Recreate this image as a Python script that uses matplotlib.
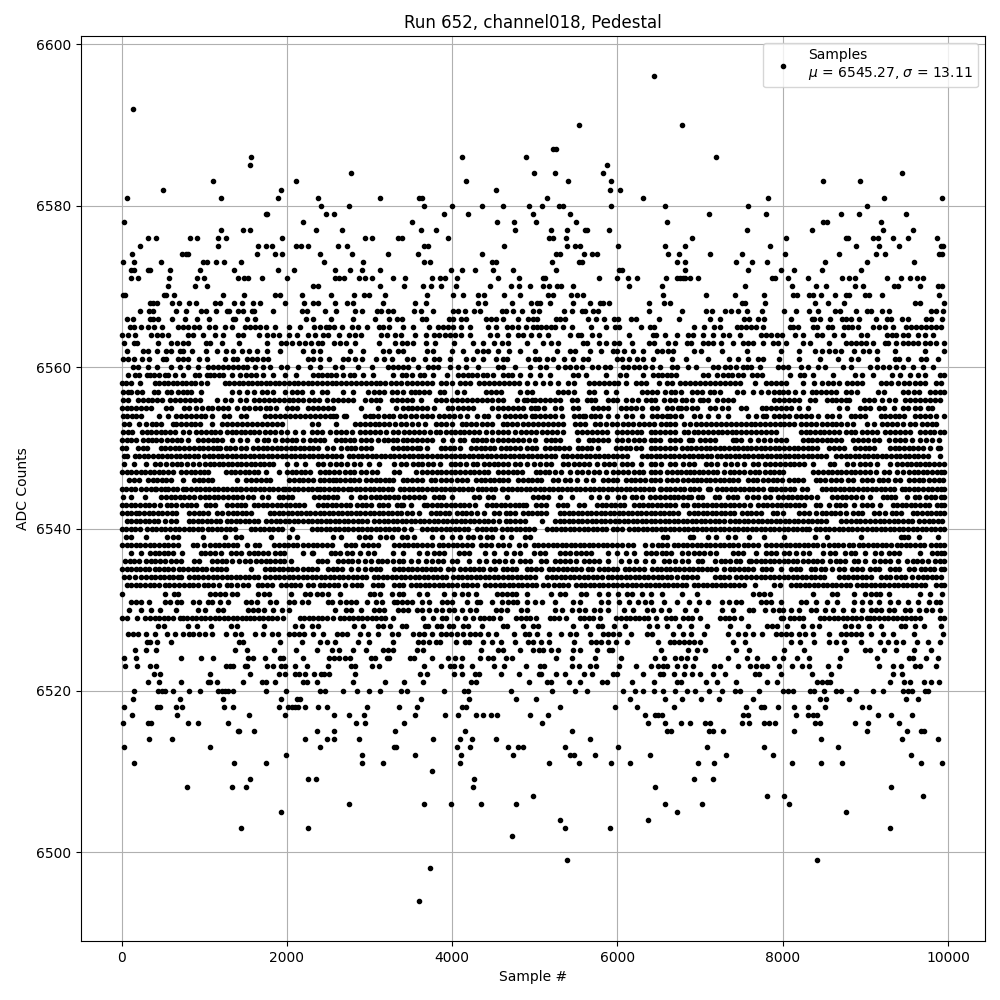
import matplotlib
matplotlib.use('Agg')
import matplotlib.pyplot as plt

# sample numbers, one list per ADC level
# tails are dot by dot, the dense middle rows are thinned out to about one dot per 55 samples
tail_low = [
    (6494, [3599]), (6498, [3732]), (6499, [5393, 8416]), (6502, [4723]),
    (6503, [1447, 2257, 5369, 5913, 9298]), (6504, [5309, 6373]), (6505, [1930, 6723, 8766]),
    (6506, [2752, 3659, 3986, 4348, 4772, 6578, 7026, 8077]), (6507, [4977, 7811, 8017, 9697]),
    (6508, [794, 1338, 1507, 4252, 6457, 9311]), (6509, [1556, 2257, 2353, 4264, 6929, 7159]),
    (6510, [3756]),
    (6511, [153, 1362, 1749, 2910, 3163, 4095, 5176, 5538, 5925, 6155, 6977, 7170, 8113, 8464, 8718, 9673, 9927]),
    (6512, [1991, 2910, 3550, 4107, 4735, 5430, 5478, 5732, 6397, 7316, 7884, 9552]),
    (6513, [32, 1072, 2402, 3297, 3321, 4058, 4215, 4675, 4796, 4856, 5369, 6010, 7086, 7775, 8670]),
    (6514, [334, 612, 2220, 2487, 2567, 2873, 3768, 4095, 4239, 4530, 5671, 8464, 9444, 9879]),
    (6515, [1411, 1423, 1604, 2366, 2571, 3309, 4155, 5454, 6602, 6651, 7110, 7159, 7279, 8138, 9020, 9504, 9673, 9709]),
    (6516, [20, 322, 359, 806, 927, 1290, 2837, 2946, 3418, 5091, 6373, 6578, 6772, 6880, 7062, 7122, 7509, 7594, 7775, 7835, 7908, 8392, 8452, 8875, 9032, 9407]),
    (6517, [129, 673, 1543, 1979, 2571, 2752, 2934, 3550, 3913, 4070, 4288, 4372, 4469, 4542, 4941, 5164, 6336, 6457, 6494, 6542, 7521, 7582, 8162, 8307, 8364, 8416, 9153, 9311, 9564]),
    (6518, [32, 431, 467, 661, 733, 1241, 1350, 1906, 2015, 2060, 2100, 2140, 2220, 2378, 2487, 2970, 3357, 3574, 4119, 4171, 5309, 5974, 6240, 6687, 7558, 7739, 7775, 7944, 8138, 8307, 8512, 8960, 9044]),
    (6519, [141, 709, 1229, 1930, 2124, 2160, 3623, 4203, 4772, 5013, 6155, 6578, 6784, 7013, 7231, 7642, 8452, 8525, 8803, 9492, 9637]),
    (6520, [153, 443, 490, 528, 625, 818, 951, 1169, 1210, 1250, 1290, 1350, 1749, 1991, 2402, 2462, 2680, 2849, 2994, 3127, 3381, 3454, 3901, 4143, 4191, 4711, 5212, 5490, 5635, 6070, 6215, 6312, 6445, 6554, 6699, 6844, 6941, 7110, 7259, 7424, 7485, 7715, 8005, 8060, 8126, 8331, 8380, 8501, 8645, 8706, 8887, 9093, 9214, 9456, 9510, 9564, 9717, 9758]),
    (6521, [322, 455, 721, 1048, 1072, 1156, 1471, 1700, 1749, 1858, 2196, 2245, 2366, 2801, 3187, 3418, 3647, 4227, 4288, 4929, 5152, 5200, 5417, 5551, 5816, 5877, 6179, 6445, 6723, 6772, 7074, 7207, 7437, 7811, 7932, 8416, 8470, 8530, 8570, 9298, 9468, 9540, 9709, 9794, 9895]),
    (6522, [395, 467, 1072, 1556, 1906, 1979, 2100, 2148, 2220, 2329, 2414, 2450, 2511, 2825, 3611, 3696, 4022, 4119, 4276, 4324, 4590, 4808, 5050, 5079, 5260, 5369, 5599, 5696, 5950, 5998, 6312, 6518, 6554, 6687, 6808, 6905, 7001, 7159, 7304, 7666, 7715, 7980, 8355, 8585, 9335, 9444]),
    (6523, [44, 189, 347, 419, 1265, 1310, 1350, 1495, 1519, 1761, 1834, 1930, 1979, 2100, 2245, 2499, 2777, 2825, 3031, 3115, 3659, 3865, 3974, 4022, 4107, 4239, 4506, 4626, 4892, 5067, 5115, 5454, 5538, 5671, 5744, 6022, 6228, 6409, 6494, 6550, 6602, 6723, 6820, 6917, 7170, 7243, 7461, 7606, 7678, 7750, 7811, 7956, 8113, 8235, 8319, 8549, 8682, 9165, 9335, 9435, 9600, 9665, 9855]),
    (6524, [32, 177, 721, 963, 1108, 1531, 1592, 1737, 1918, 1955, 2196, 2511, 2571, 2630, 2700, 2760, 3018, 3066, 3212, 3236, 3490, 3538, 3756, 3949, 4034, 4119, 4336, 4433, 4494, 4651, 4723, 5260, 5454, 5732, 6046, 6457, 6566, 6699, 6770, 6844, 6941, 7340, 7570, 7690, 7896, 8005, 8174, 8319, 8694, 9141, 9528, 9577, 9734, 9879]),
    (6525, [165, 298, 419, 1374, 1519, 1846, 2112, 2366, 2547, 2632, 2801, 2958, 3163, 3225, 3285, 3574, 3647, 4348, 4554, 4614, 4820, 4977, 5050, 5103, 5200, 5285, 5466, 5546, 5756, 5901, 5937, 6530, 6856, 6965, 7062, 7437, 7594, 8017, 8259, 8766, 8992, 9053, 9226, 9375, 9589, 9794]),
    (6526, [310, 347, 431, 600, 1423, 1471, 1918, 2184, 2402, 2487, 2583, 2861, 2994, 3285, 3587, 3650, 3720, 3800, 3849, 4046, 4155, 4203, 4372, 4481, 4590, 4759, 4917, 4977, 5079, 5176, 5478, 5683, 5745, 5805, 5889, 5986, 6119, 6494, 6635, 6690, 6750, 6810, 6870, 6925, 6997, 7400, 7545, 8101, 8210, 8380, 8561, 8640, 8742, 8948, 9181, 9274, 9371, 9456, 9625, 9762, 9902]),
    (6527, [81, 140, 201, 298, 407, 552, 649, 745, 810, 870, 940, 1007, 1096, 1265, 1374, 1447, 1612, 1713, 1822, 1894, 2027, 2090, 2150, 2210, 2317, 2438, 2607, 2670, 2730, 2881, 2982, 3103, 3272, 3345, 3526, 3599, 3659, 3756, 3865, 3930, 3990, 4060, 4131, 4215, 4276, 4336, 4433, 4530, 4747, 4880, 4929, 5031, 5176, 5321, 5430, 5502, 5671, 5829, 5890, 5950, 6022, 6167, 6361, 6421, 6675, 6796, 6892, 7050, 7340, 7461, 7545, 7642, 7751, 7924, 7980, 8040, 8105, 8198, 8270, 8368, 8561, 8706, 8770, 8830, 8890, 8950, 9073, 9214, 9335, 9589, 9939]),
    (6528, [443, 516, 806, 915, 1084, 1326, 1398, 1725, 2100, 2184, 2305, 2378, 2813, 2922, 3103, 3163, 3248, 3393, 3442, 3671, 3708, 3816, 3865, 3962, 4010, 4131, 4191, 4360, 4614, 4663, 4856, 4977, 5043, 5466, 5623, 5768, 5816, 5962, 6095, 6385, 6481, 6602, 6743, 6892, 7086, 7364, 7582, 7811, 7864, 7932, 8053, 8247, 8355, 8440, 8750, 8830, 8912, 9044, 9190, 9431, 9480, 9601, 9709, 9915]),
]

core = [
    (6529, [0, 60, 181, 281, 342, 400, 455, 510, 565, 620, 705, 746, 790, 850, 905, 960, 1015, 1070, 1125, 1180, 1235, 1290, 1345, 1400, 1455, 1510, 1550, 1605, 1660, 1715, 1770, 1825, 1880, 1955, 2156, 2210, 2265, 2320, 2375, 2430, 2485, 2560, 2640, 2695, 2750, 2805, 2860, 2915, 2970, 3025, 3080, 3135, 3190, 3280, 3650, 3771, 3872, 3930, 4053, 4154, 4254, 4335, 4390, 4445, 4500, 4577, 4778, 4833, 4888, 4943, 5020, 5181, 5236, 5291, 5383, 5544, 5599, 5654, 5709, 5786, 5988, 6043, 6098, 6153, 6208, 6263, 6318, 6373, 6471, 6592, 6647, 6702, 6793, 6850, 6905, 6999, 7240, 7300, 7355, 7410, 7500, 7976, 8006, 8087, 8142, 8197, 8250, 8450, 8505, 8560, 8615, 8670, 8725, 8780, 8835, 8890, 8945, 9014, 9054, 9109, 9164, 9219, 9274, 9329, 9384, 9439, 9494, 9549, 9604, 9660, 9900, 9950]),
    (6530, [93, 230, 362, 470, 660, 930, 1005, 1170, 1230, 1530, 1590, 1650, 1720, 1830, 1935, 2030, 2580, 2720, 2780, 2900, 3060, 3120, 3175, 3340, 3400, 3465, 3570, 3630, 3720, 3810, 3880, 3960, 4020, 4120, 4215, 4290, 4530, 4590, 4660, 4830, 4900, 5240, 5330, 5450, 5530, 5610, 5720, 5790, 5880, 6080, 6185, 6360, 6430, 6530, 6620, 6820, 6950, 7260, 7400, 7590, 7640, 7780, 7880, 7950, 8000, 8100, 8200, 8340, 8400, 8510, 8610, 8730, 8850, 8960, 9070, 9130, 9190, 9290, 9350, 9480, 9540, 9650, 9730, 9800, 9900]),
    (6531, [110, 170, 240, 330, 530, 580, 670, 720, 870, 935, 1040, 1090, 1190, 1290, 1500, 1560, 1640, 1790, 1870, 2020, 2090, 2185, 2260, 2500, 2540, 2640, 2720, 2780, 2840, 2970, 3080, 3150, 3300, 3330, 3395, 3450, 3510, 3640, 3720, 3880, 3940, 4000, 4180, 4300, 4340, 4480, 4600, 4670, 4730, 4790, 4910, 5000, 5090, 5240, 5460, 5550, 5800, 5880, 6020, 6140, 6250, 6330, 6400, 6560, 6720, 6860, 6990, 7090, 7260, 7350, 7430, 7500, 7740, 7800, 7860, 7980, 8220, 8280, 8400, 8530, 8660, 8860, 8960, 9060, 9170, 9300, 9400, 9520, 9640, 9770, 9850, 9900]),
    (6532, [0, 520, 640, 680, 1070, 1130, 1190, 1250, 1340, 1400, 1650, 1720, 1780, 2045, 2220, 2280, 2360, 2430, 2500, 2640, 3000, 3060, 3130, 3270, 3360, 3400, 3600, 3700, 3900, 4020, 4120, 4190, 4290, 4540, 4600, 4660, 4720, 4770, 4900, 5200, 5300, 5370, 5560, 5620, 5780, 5880, 6010, 6110, 6170, 6300, 6410, 6540, 6780, 6960, 7640, 7710, 7770, 7840, 8360, 8600, 8660, 8860, 8990, 9070, 9130, 9180, 9290, 9660, 9780, 9930]),
    (6533, [60, 115, 170, 225, 280, 340, 395, 450, 520, 575, 630, 700, 760, 815, 870, 925, 1000, 1050, 1105, 1180, 1270, 1325, 1400, 1470, 1525, 1650, 1705, 1760, 1815, 1930, 1990, 2045, 2100, 2155, 2260, 2315, 2400, 2455, 2510, 2565, 2620, 2700, 2790, 2845, 2900, 3040, 3100, 3150, 3300, 3355, 3410, 3500, 3560, 3615, 3670, 3725, 3780, 3835, 3890, 3945, 4000, 4055, 4130, 4185, 4240, 4300, 4400, 4460, 4520, 4575, 4630, 4685, 4740, 4795, 4850, 4905, 4960, 5015, 5100, 5160, 5230, 5290, 5345, 5400, 5500, 5555, 5610, 5665, 5720, 5775, 5830, 5885, 5940, 5995, 6060, 6120, 6175, 6230, 6285, 6340, 6395, 6450, 6505, 6560, 6615, 6670, 6725, 6780, 6835, 6920, 6975, 7030, 7085, 7140, 7195, 7250, 7305, 7360, 7415, 7470, 7525, 7670, 7900, 7970, 8100, 8155, 8210, 8265, 8320, 8375, 8430, 8485, 8540, 8595, 8650, 8705, 8760, 8815, 8900, 8955, 9010, 9065, 9120, 9175, 9230, 9285, 9340, 9395, 9450, 9505, 9560, 9615, 9670, 9725, 9860, 9915, 9950]),
    (6534, [30, 85, 160, 240, 295, 350, 405, 460, 515, 570, 625, 680, 720, 820, 875, 930, 985, 1050, 1105, 1160, 1215, 1270, 1325, 1380, 1435, 1490, 1545, 1600, 1655, 1730, 1800, 1855, 1910, 1965, 2020, 2075, 2130, 2190, 2245, 2300, 2355, 2410, 2465, 2520, 2575, 2630, 2685, 2740, 2795, 2850, 2905, 2960, 3050, 3105, 3160, 3215, 3270, 3325, 3380, 3435, 3490, 3545, 3600, 3655, 3710, 3765, 3820, 3875, 3930, 4010, 4065, 4120, 4175, 4230, 4285, 4340, 4395, 4450, 4505, 4560, 4615, 4670, 4725, 4780, 4835, 4890, 4945, 5000, 5150, 5205, 5260, 5315, 5370, 5425, 5480, 5535, 5590, 5645, 5700, 5755, 5810, 5880, 5935, 5990, 6045, 6100, 6155, 6210, 6265, 6320, 6375, 6430, 6485, 6540, 6595, 6650, 6720, 6790, 6845, 6900, 6965, 7180, 7240, 7295, 7350, 7430, 7500, 7555, 7610, 7680, 7735, 7790, 7845, 7900, 7955, 8010, 8065, 8120, 8175, 8230, 8285, 8340, 8395, 8450, 8505, 8680, 8735, 8790, 8845, 8900, 8955, 9010, 9065, 9190, 9245, 9300, 9370, 9425, 9480, 9560, 9640, 9695, 9750, 9805, 9860, 9915]),
    (6535, [5, 60, 115, 170, 225, 280, 335, 400, 455, 510, 565, 620, 690, 745, 800, 860, 915, 970, 1025, 1090, 1150, 1205, 1260, 1570, 1730, 1790, 1845, 1900, 1955, 2010, 2065, 2120, 2200, 2255, 2310, 2365, 2500, 2555, 2610, 2665, 2780, 2860, 2950, 3020, 3075, 3130, 3300, 3355, 3410, 3465, 3520, 3575, 3630, 3685, 3740, 3795, 3850, 3950, 4010, 4100, 4155, 4210, 4265, 4320, 4375, 4460, 4515, 4610, 4665, 4720, 4775, 4900, 4955, 5010, 5070, 5170, 5225, 5280, 5335, 5390, 5445, 5500, 5560, 5640, 5695, 5780, 5835, 5890, 5945, 6000, 6090, 6145, 6200, 6255, 6320, 6420, 6475, 6530, 6585, 6640, 6695, 6750, 6805, 6860, 6915, 6970, 7025, 7080, 7135, 7190, 7290, 7360, 7415, 7470, 7525, 7580, 7635, 7745, 7800, 7855, 7980, 8100, 8155, 8210, 8340, 8395, 8460, 8515, 8600, 8680, 8735, 8840, 8900, 8960, 9060, 9115, 9170, 9300, 9355, 9410, 9530, 9585, 9670, 9725, 9780, 9835, 9910, 9950]),
    (6536, [45, 100, 155, 210, 290, 350, 405, 460, 520, 595, 660, 720, 880, 935, 1100, 1155, 1210, 1265, 1340, 1420, 1490, 1550, 1630, 1690, 1745, 1800, 1860, 1915, 1970, 2050, 2380, 2430, 2490, 2620, 2680, 2735, 2790, 2860, 2950, 3020, 3100, 3155, 3210, 3290, 3360, 3410, 3500, 3590, 3680, 3760, 3830, 3895, 4000, 4060, 4200, 4330, 4410, 4510, 4570, 4640, 4720, 4820, 4880, 4940, 5070, 5130, 5250, 5310, 5365, 5430, 5500, 5600, 5660, 5715, 5780, 5880, 6040, 6140, 6220, 6330, 6430, 6560, 6620, 6700, 6780, 6850, 6970, 7020, 7180, 7250, 7305, 7360, 7440, 7480, 7590, 7620, 7680, 7735, 7790, 7845, 7900, 7955, 8010, 8065, 8120, 8175, 8250, 8305, 8360, 8415, 8470, 8570, 8640, 8695, 8750, 8860, 8915, 8990, 9100, 9180, 9240, 9300, 9400, 9500, 9570, 9625, 9690, 9760, 9840, 9900, 9950]),
    (6537, [120, 230, 340, 400, 455, 510, 565, 620, 730, 960, 1015, 1070, 1125, 1200, 1320, 1390, 1445, 1540, 1600, 1655, 1710, 1770, 1860, 1915, 1970, 2190, 2300, 2320, 2530, 2580, 2640, 2730, 2790, 2890, 2980, 3050, 3290, 3400, 3600, 3700, 3780, 3840, 3900, 4080, 4140, 4200, 4400, 4510, 4650, 4750, 4820, 4990, 5060, 5120, 5300, 5360, 5420, 5500, 5560, 5620, 5680, 5880, 5990, 6100, 6200, 6340, 6410, 6470, 6540, 6590, 6650, 6780, 6850, 6930, 6990, 7050, 7120, 7190, 7400, 7460, 7520, 7680, 7800, 7860, 7920, 8020, 8080, 8160, 8240, 8320, 8490, 8570, 8630, 8750, 8820, 8880, 8990, 9120, 9190, 9280, 9350, 9410, 9660, 9810, 9865, 9915, 9945]),
    (6538, [5, 60, 115, 170, 225, 280, 340, 395, 450, 510, 565, 620, 680, 860, 915, 1000, 1070, 1125, 1180, 1235, 1290, 1345, 1400, 1520, 1610, 1665, 1840, 1900, 1960, 2010, 2075, 2120, 2200, 2260, 2315, 2370, 2430, 2490, 2545, 2720, 2775, 2830, 2920, 2980, 3040, 3100, 3300, 3360, 3415, 3470, 3525, 3580, 3640, 3695, 3750, 3840, 3895, 3950, 4005, 4060, 4120, 4175, 4240, 4350, 4410, 4470, 4560, 4620, 4690, 4810, 4880, 4990, 5040, 5100, 5160, 5215, 5270, 5325, 5380, 5435, 5490, 5545, 5600, 5655, 5710, 5765, 5820, 5875, 5930, 6000, 6060, 6130, 6190, 6330, 6420, 6485, 6540, 6595, 6680, 6735, 6790, 6845, 6900, 6960, 7015, 7070, 7125, 7180, 7235, 7290, 7345, 7400, 7455, 7530, 7585, 7640, 7700, 7800, 7860, 7920, 7980, 8035, 8090, 8145, 8200, 8255, 8310, 8365, 8420, 8490, 8560, 8615, 8670, 8730, 8800, 8855, 8920, 8975, 9030, 9090, 9145, 9200, 9255, 9310, 9380, 9435, 9490, 9545, 9600, 9655, 9710, 9790, 9850, 9905, 9950]),
    (6539, [50, 120, 290, 550, 620, 680, 990, 1250, 1390, 1450, 1810, 2030, 2120, 2560, 2650, 2870, 2950, 3010, 3130, 3200, 3270, 3390, 3450, 3540, 3750, 3880, 4000, 4100, 4190, 4250, 4340, 4420, 4480, 4600, 4710, 4880, 4940, 6550, 6600, 6880, 6910, 7100, 7190, 7340, 7420, 7590, 7770, 8020, 8390, 8530, 8950, 9430, 9470, 9520, 9650, 9880]),
    (6540, [0, 55, 110, 165, 220, 310, 365, 420, 475, 530, 590, 645, 700, 755, 810, 865, 920, 970, 1040, 1095, 1150, 1205, 1260, 1315, 1370, 1560, 1615, 1670, 1725, 1780, 1835, 1890, 1945, 2060, 2300, 2360, 2415, 2470, 2525, 2580, 2635, 2690, 2745, 2800, 2855, 2910, 2965, 3020, 3075, 3130, 3185, 3240, 3295, 3350, 3420, 3500, 3640, 3700, 3755, 3810, 3865, 3920, 3975, 4030, 4085, 4140, 4195, 4300, 4355, 4410, 4465, 4520, 4600, 4660, 4715, 4770, 4825, 4880, 4935, 4990, 5150, 5205, 5260, 5315, 5370, 5425, 5480, 5535, 5590, 5645, 5700, 5755, 5810, 5865, 5940, 6000, 6060, 6140, 6195, 6250, 6305, 6360, 6415, 6470, 6525, 6580, 6635, 6690, 6745, 6800, 6855, 6910, 6965, 7020, 7075, 7130, 7185, 7240, 7295, 7350, 7405, 7460, 7515, 7570, 7625, 7680, 7735, 7790, 7845, 7900, 7955, 8010, 8065, 8120, 8175, 8230, 8285, 8320, 8400, 8455, 8510, 8565, 8620, 8675, 8730, 8785, 8840, 8900, 8960, 9020, 9075, 9130, 9185, 9240, 9295, 9350, 9405, 9460, 9515, 9570, 9625, 9680, 9735, 9790, 9845, 9900, 9950]),
    (6541, [60, 115, 170, 225, 280, 335, 390, 445, 530, 600, 660, 810, 865, 920, 975, 1030, 1085, 1140, 1190, 1270, 1325, 1380, 1435, 1490, 1545, 1600, 1655, 1750, 1810, 1865, 1920, 1975, 2030, 2085, 2140, 2195, 2250, 2305, 2360, 2415, 2470, 2525, 2580, 2635, 2690, 2745, 2800, 2855, 2910, 2965, 3060, 3115, 3170, 3225, 3280, 3335, 3390, 3445, 3500, 3555, 3610, 3665, 3720, 3775, 3830, 3885, 3940, 3995, 4050, 4105, 4160, 4215, 4270, 4325, 4380, 4435, 4490, 4570, 4650, 4705, 4760, 4815, 4880, 5090, 5245, 5300, 5355, 5410, 5465, 5520, 5575, 5630, 5690, 5745, 5800, 5855, 5910, 5965, 6020, 6075, 6130, 6185, 6240, 6295, 6350, 6405, 6460, 6515, 6570, 6625, 6680, 6735, 6790, 6845, 6900, 6955, 7010, 7065, 7120, 7175, 7230, 7285, 7360, 7420, 7475, 7530, 7585, 7640, 7695, 7750, 7805, 7860, 7915, 7970, 8025, 8080, 8135, 8190, 8245, 8300, 8355, 8410, 8465, 8520, 8710, 8770, 8830, 8885, 8940, 9000, 9060, 9120, 9175, 9230, 9285, 9340, 9400, 9455, 9510, 9565, 9650, 9710, 9765, 9820, 9875, 9930]),
    (6542, [0, 60, 115, 170, 210, 270, 330, 385, 440, 495, 550, 605, 660, 820, 880, 935, 990, 1045, 1150, 1220, 1290, 1345, 1400, 1455, 1510, 1565, 1790, 1845, 1900, 1955, 2010, 2065, 2120, 2175, 2230, 2285, 2340, 2395, 2450, 2505, 2560, 2615, 2670, 2725, 2780, 2835, 2890, 2945, 3000, 3055, 3110, 3165, 3220, 3275, 3330, 3385, 3450, 3510, 3600, 3740, 3800, 3855, 3910, 3965, 4060, 4115, 4170, 4225, 4300, 4380, 4510, 4565, 4650, 4705, 4760, 4860, 4915, 4970, 5025, 5080, 5135, 5300, 5355, 5410, 5465, 5520, 5575, 5630, 5685, 5740, 5795, 5850, 5905, 5960, 6015, 6070, 6125, 6180, 6235, 6290, 6345, 6400, 6455, 6510, 6565, 6620, 6675, 6730, 6860, 6920, 6975, 7030, 7085, 7140, 7195, 7250, 7305, 7360, 7415, 7510, 7565, 7620, 7675, 7740, 7880, 7935, 8000, 8200, 8260, 8315, 8400, 8470, 8525, 8580, 8635, 8690, 8760, 8850, 8905, 8960, 9100, 9160, 9240, 9320, 9375, 9430, 9575, 9630, 9685, 9740, 9795, 9850, 9905, 9950]),
    (6543, [0, 55, 110, 165, 220, 280, 335, 390, 460, 550, 600, 655, 730, 790, 845, 900, 1020, 1075, 1130, 1270, 1340, 1395, 1450, 1490, 1600, 1655, 1710, 1765, 1820, 1880, 1930, 1985, 2040, 2095, 2150, 2205, 2380, 2435, 2490, 2545, 2600, 2655, 2710, 2765, 2850, 2905, 2960, 3015, 3110, 3165, 3220, 3330, 3380, 3410, 3500, 3660, 3700, 3760, 3815, 3870, 3925, 3980, 4035, 4090, 4145, 4200, 4280, 4420, 4480, 4535, 4590, 4645, 4700, 4755, 4810, 4860, 4890, 5020, 5075, 5130, 5280, 5335, 5390, 5530, 5600, 5755, 5810, 5865, 5920, 5975, 6030, 6085, 6200, 6255, 6310, 6365, 6420, 6475, 6530, 6585, 6640, 6695, 6790, 6845, 6920, 6975, 7030, 7085, 7140, 7195, 7250, 7305, 7360, 7415, 7470, 7525, 7600, 7700, 7760, 7815, 7870, 7925, 7980, 8035, 8090, 8145, 8200, 8255, 8400, 8450, 8560, 8640, 8695, 8750, 8860, 8960, 9020, 9075, 9180, 9330, 9385, 9440, 9495, 9550, 9605, 9660, 9715, 9770, 9870, 9915, 9950]),
    (6544, [20, 110, 280, 480, 540, 595, 650, 705, 760, 815, 880, 950, 1005, 1060, 1115, 1170, 1225, 1290, 1345, 1400, 1455, 1530, 1590, 1700, 1770, 1900, 1950, 2010, 2060, 2330, 2390, 2445, 2500, 2555, 2610, 2780, 2880, 2950, 3020, 3075, 3130, 3185, 3240, 3295, 3350, 3420, 3480, 3540, 3600, 3655, 3780, 3840, 3895, 4000, 4270, 4320, 4430, 4490, 4660, 4980, 5040, 5100, 5155, 5300, 5450, 5680, 5780, 5870, 6010, 6080, 6170, 6230, 6300, 6390, 6450, 6510, 6570, 6630, 6680, 6730, 6790, 6850, 6890, 6970, 7025, 7180, 7230, 7340, 7395, 7450, 7570, 7640, 7700, 7790, 7850, 7940, 8000, 8060, 8115, 8170, 8225, 8280, 8340, 8420, 8600, 8660, 8715, 8770, 8830, 8890, 8960, 9050, 9210, 9260, 9310, 9360, 9500, 9600, 9650, 9730, 9790, 9845, 9920, 9950]),
    (6545, [0, 55, 110, 160, 240, 295, 350, 400, 420, 475, 520, 565, 620, 675, 745, 785, 840, 895, 950, 1005, 1060, 1115, 1170, 1225, 1280, 1335, 1390, 1430, 1450, 1505, 1560, 1615, 1670, 1725, 1780, 1835, 1890, 1955, 1975, 2030, 2085, 2140, 2195, 2250, 2305, 2360, 2400, 2455, 2510, 2565, 2620, 2675, 2740, 2780, 2835, 2890, 2945, 3000, 3055, 3110, 3165, 3220, 3275, 3365, 3420, 3475, 3530, 3585, 3640, 3695, 3750, 3805, 3860, 3915, 3970, 4025, 4080, 4135, 4190, 4245, 4315, 4355, 4410, 4465, 4520, 4597, 4617, 4672, 4727, 4782, 4837, 4892, 4947, 5002, 5057, 5112, 5167, 5222, 5277, 5332, 5387, 5442, 5497, 5552, 5607, 5662, 5717, 5772, 5827, 5882, 5937, 5992, 6047, 6102, 6157, 6212, 6267, 6322, 6377, 6432, 6511, 6531, 6586, 6641, 6696, 6751, 6806, 6874, 6930, 6985, 7100, 7120, 7200, 7260, 7315, 7370, 7425, 7480, 7535, 7590, 7645, 7700, 7755, 7845, 7865, 7920, 7975, 8030, 8085, 8140, 8228, 8290, 8470, 8525, 8580, 8635, 8690, 8745, 8800, 8855, 8910, 8965, 9020, 9075, 9130, 9185, 9240, 9295, 9350, 9437, 9477, 9532, 9587, 9642, 9697, 9752, 9807, 9862, 9917, 9950]),
    (6546, [90, 150, 210, 320, 375, 430, 485, 540, 600, 740, 880, 935, 990, 1050, 1090, 1400, 1510, 1570, 1630, 1690, 1745, 1800, 2030, 2090, 2145, 2200, 2260, 2315, 2400, 2455, 2510, 2560, 2590, 2640, 2700, 2760, 2815, 2870, 2960, 3020, 3075, 3130, 3185, 3240, 3290, 3400, 3450, 3510, 3570, 3640, 3740, 3790, 3870, 3930, 3985, 4060, 4120, 4175, 4290, 4345, 4400, 4455, 4510, 4565, 4620, 4680, 4800, 4860, 4915, 4970, 5025, 5080, 5220, 5280, 5370, 5430, 5510, 5620, 5700, 5820, 5890, 5945, 6000, 6100, 6160, 6215, 6270, 6330, 6400, 6460, 6520, 6600, 6660, 6715, 6790, 6850, 6910, 6960, 7015, 7070, 7125, 7180, 7235, 7290, 7345, 7400, 7455, 7580, 7635, 7690, 7760, 7820, 7880, 7935, 7990, 8080, 8135, 8190, 8245, 8400, 8455, 8510, 8580, 8640, 8700, 8790, 8845, 8960, 9020, 9080, 9160, 9215, 9270, 9360, 9420, 9530, 9590, 9645, 9700, 9770, 9830, 9885, 9940]),
    (6547, [10, 65, 120, 175, 230, 285, 340, 395, 450, 505, 560, 620, 720, 780, 835, 890, 945, 1000, 1050, 1260, 1320, 1375, 1430, 1490, 1545, 1600, 1655, 1750, 1900, 2000, 2060, 2115, 2170, 2225, 2280, 2400, 2460, 2515, 2570, 2630, 2700, 2760, 2815, 2900, 2960, 3030, 3090, 3300, 3360, 3560, 3640, 3700, 3760, 3815, 3870, 3925, 3980, 4035, 4100, 4160, 4215, 4270, 4325, 4380, 4430, 4560, 4620, 4680, 4735, 4790, 4850, 5010, 5065, 5120, 5175, 5240, 5320, 5430, 5510, 5565, 5640, 5720, 5775, 5860, 5950, 6010, 6070, 6130, 6200, 6260, 6315, 6400, 6460, 6515, 6600, 6660, 6715, 6770, 6830, 6880, 6930, 6985, 7040, 7095, 7150, 7200, 7290, 7360, 7415, 7470, 7530, 7600, 7660, 7715, 7780, 7840, 7895, 7950, 8000, 8370, 8430, 8490, 8545, 8600, 8655, 8710, 8765, 8820, 8875, 8930, 8990, 9050, 9130, 9220, 9290, 9380, 9460, 9530, 9585, 9640, 9695, 9750, 9810, 9865, 9920, 9950]),
    (6548, [30, 150, 290, 400, 460, 540, 610, 665, 720, 790, 870, 940, 1010, 1065, 1120, 1175, 1230, 1285, 1340, 1395, 1450, 1505, 1560, 1615, 1670, 1725, 1780, 1830, 2000, 2110, 2220, 2380, 2440, 2520, 2590, 2650, 2730, 2810, 2890, 2990, 3110, 3300, 3380, 3440, 3530, 3590, 3640, 3710, 3770, 3850, 3980, 4040, 4095, 4170, 4250, 4305, 4390, 4450, 4505, 4560, 4620, 4680, 4760, 4820, 4900, 4990, 5060, 5140, 5200, 5340, 5400, 5480, 5530, 5590, 5650, 5750, 5840, 5900, 5960, 6060, 6120, 6170, 6290, 6400, 6460, 6530, 6640, 6700, 6790, 6860, 6930, 7070, 7130, 7210, 7300, 7370, 7450, 7530, 7640, 7700, 7780, 7850, 7910, 7970, 8030, 8090, 8140, 8200, 8260, 8370, 8570, 8620, 8780, 8850, 8930, 8990, 9050, 9140, 9300, 9380, 9440, 9500, 9555, 9610, 9665, 9720, 9775, 9830, 9885, 9950]),
    (6549, [30, 70, 160, 215, 270, 325, 380, 435, 490, 545, 600, 655, 710, 765, 820, 875, 930, 1000, 1055, 1110, 1165, 1220, 1275, 1330, 1385, 1440, 1495, 1550, 1605, 1660, 1715, 1770, 1825, 1880, 1935, 1990, 2045, 2100, 2155, 2210, 2265, 2320, 2375, 2430, 2485, 2540, 2600, 2660, 2750, 2805, 2860, 2915, 2970, 3025, 3080, 3135, 3190, 3245, 3300, 3355, 3420, 3475, 3530, 3585, 3640, 3700, 3760, 3815, 3870, 3925, 3980, 4035, 4090, 4145, 4200, 4255, 4310, 4365, 4420, 4475, 4530, 4585, 4640, 4695, 4750, 4805, 4860, 4915, 4970, 5025, 5080, 5135, 5190, 5245, 5340, 5395, 5450, 5505, 5560, 5615, 5670, 5725, 5780, 5835, 5890, 5945, 6000, 6050, 6110, 6300, 6355, 6410, 6465, 6520, 6575, 6630, 6685, 6740, 6800, 6860, 6915, 6970, 7025, 7080, 7135, 7200, 7255, 7310, 7365, 7420, 7475, 7530, 7585, 7640, 7695, 7750, 7805, 7860, 7915, 7970, 8025, 8080, 8135, 8190, 8245, 8300, 8355, 8410, 8465, 8520, 8650, 8705, 8760, 8815, 8870, 8925, 8980, 9035, 9090, 9145, 9200, 9255, 9310, 9365, 9420, 9475, 9530, 9585, 9640, 9700, 9760, 9900]),
    (6550, [10, 55, 200, 255, 310, 480, 530, 590, 645, 700, 760, 820, 880, 935, 990, 1050, 1105, 1150, 1190, 1260, 1315, 1370, 1450, 1500, 1590, 1650, 1710, 1765, 1820, 1875, 1930, 1990, 2045, 2100, 2155, 2210, 2265, 2320, 2375, 2480, 2560, 2660, 2730, 2780, 2830, 2900, 2960, 3020, 3280, 3340, 3400, 3450, 3510, 3570, 3610, 3700, 3860, 3910, 3970, 4025, 4100, 4230, 4290, 4345, 4400, 4460, 4510, 4590, 4650, 4700, 4760, 4820, 4900, 4960, 5010, 5120, 5180, 5240, 5295, 5350, 5410, 5520, 5575, 5630, 5685, 5760, 5980, 6040, 6100, 6150, 6220, 6280, 6400, 6460, 6515, 6570, 6630, 6700, 6780, 6840, 6895, 6950, 7015, 7070, 7125, 7180, 7240, 7295, 7350, 7405, 7460, 7520, 7570, 7620, 7680, 7735, 7790, 7850, 7905, 7960, 8020, 8075, 8130, 8190, 8245, 8300, 8355, 8410, 8560, 8620, 8680, 8740, 8880, 8935, 8990, 9045, 9100, 9300, 9355, 9410, 9470, 9530, 9580, 9640, 9700, 9780, 9880, 9900]),
    (6551, [5, 60, 115, 170, 260, 315, 370, 420, 480, 550, 610, 665, 720, 800, 930, 990, 1050, 1105, 1160, 1220, 1340, 1430, 1520, 1640, 1720, 1775, 1860, 1940, 2000, 2060, 2115, 2200, 2280, 2340, 2395, 2450, 2590, 2650, 2705, 2760, 2815, 2900, 2960, 3015, 3100, 3170, 3225, 3280, 3335, 3400, 3450, 3510, 3580, 3640, 3700, 3760, 3890, 4000, 4090, 4140, 4250, 4300, 4360, 4415, 4480, 4550, 4610, 4680, 4740, 4800, 4860, 4930, 5000, 5140, 5190, 5250, 5300, 5520, 5650, 5710, 5770, 5830, 5890, 6000, 6060, 6130, 6200, 6260, 6320, 6400, 6460, 6520, 6640, 6700, 6760, 6860, 6900, 7000, 7060, 7120, 7175, 7400, 7440, 7500, 7600, 7700, 7770, 7850, 7920, 7980, 8040, 8240, 8300, 8355, 8410, 8470, 8530, 8580, 8650, 8700, 8850, 8910, 8965, 9030, 9100, 9170, 9290, 9360, 9420, 9480, 9560, 9660, 9730, 9800, 9890]),
    (6552, [20, 75, 130, 250, 305, 360, 420, 480, 530, 590, 650, 740, 820, 900, 960, 1020, 1080, 1135, 1190, 1270, 1330, 1385, 1440, 1495, 1550, 1605, 1660, 1740, 1800, 1860, 1930, 2000, 2100, 2190, 2300, 2360, 2420, 2520, 2590, 2650, 2720, 2790, 2880, 2950, 3000, 3070, 3130, 3200, 3280, 3340, 3420, 3480, 3540, 3600, 3660, 3730, 3800, 3850, 3920, 3980, 4040, 4090, 4140, 4200, 4260, 4330, 4410, 4480, 4550, 4620, 4680, 4760, 4830, 4890, 4950, 5010, 5090, 5150, 5210, 5270, 5340, 5510, 5570, 5630, 5690, 5750, 5810, 5870, 6000, 6060, 6120, 6180, 6240, 6290, 6400, 6460, 6520, 6580, 6640, 6700, 6800, 6850, 6920, 6980, 7040, 7100, 7160, 7215, 7270, 7325, 7380, 7440, 7500, 7560, 7620, 7680, 7740, 7800, 7860, 7920, 8220, 8280, 8335, 8390, 8445, 8500, 8560, 8620, 8680, 8760, 8820, 8880, 8960, 9020, 9080, 9140, 9240, 9300, 9360, 9420, 9480, 9540, 9660, 9720, 9780, 9835, 9900, 9950]),
    (6553, [30, 85, 210, 290, 370, 420, 475, 620, 660, 720, 780, 835, 890, 950, 1100, 1220, 1280, 1340, 1400, 1460, 1520, 1580, 1640, 1700, 1760, 1820, 1880, 1940, 2300, 2380, 2600, 2820, 2880, 2950, 3010, 3065, 3120, 3180, 3240, 3310, 3380, 3440, 3510, 3590, 3670, 3800, 3860, 3920, 4000, 4120, 4170, 4230, 4290, 4360, 4420, 4480, 4610, 4660, 4720, 4780, 4860, 4920, 4980, 5040, 5100, 5160, 5220, 5280, 5340, 5490, 5550, 5610, 5730, 5790, 5860, 5930, 6000, 6070, 6130, 6190, 6260, 6320, 6380, 6440, 6530, 6590, 6640, 6700, 6810, 6880, 6950, 7010, 7070, 7130, 7190, 7250, 7310, 7370, 7430, 7490, 7550, 7610, 7670, 7730, 7790, 7850, 7910, 7970, 8020, 8080, 8140, 8220, 8280, 8340, 8400, 8470, 8530, 8590, 8650, 8710, 8780, 8850, 9020, 9100, 9200, 9260, 9320, 9380, 9460, 9540, 9600, 9680, 9740, 9800, 9860]),
    (6554, [15, 70, 125, 180, 230, 450, 560, 660, 720, 780, 840, 900, 960, 1015, 1090, 1240, 1300, 1440, 1500, 1740, 1800, 1860, 1920, 1980, 2040, 2100, 2160, 2220, 2280, 2340, 2400, 2460, 2520, 2560, 2600, 2690, 2720, 2950, 3000, 3040, 3100, 3170, 3240, 3290, 3370, 3430, 3500, 3560, 3640, 3700, 3760, 3840, 3900, 3960, 4020, 4100, 4180, 4300, 4380, 4430, 4560, 4640, 4700, 4760, 4820, 4880, 4960, 5000, 5060, 5120, 5180, 5240, 5330, 5470, 5530, 5580, 5610, 5680, 5730, 5790, 5890, 6000, 6100, 6180, 6300, 6420, 6480, 6540, 6600, 6640, 6700, 6770, 6920, 7000, 7100, 7220, 7340, 7580, 7680, 7760, 7800, 7900, 7950, 8010, 8070, 8160, 8220, 8280, 8340, 8430, 8530, 8590, 8680, 8820, 8880, 8940, 9000, 9190, 9240, 9300, 9360, 9410, 9470, 9600, 9660, 9720, 9780, 9860, 9950]),
    (6555, [5, 60, 115, 170, 230, 290, 350, 540, 600, 760, 820, 900, 970, 1040, 1100, 1170, 1230, 1290, 1400, 1480, 1540, 1620, 1680, 1750, 1800, 1870, 2000, 2060, 2120, 2250, 2320, 2380, 2440, 2500, 2560, 2900, 3100, 3320, 3400, 3460, 3520, 3580, 3640, 3700, 3780, 3950, 4000, 4070, 4130, 4190, 4250, 4480, 4560, 4620, 4680, 4740, 4800, 4860, 4950, 5000, 5040, 5110, 5240, 5320, 5460, 5520, 5700, 5760, 5820, 5880, 6040, 6100, 6160, 6220, 6300, 6420, 6480, 6600, 6660, 6730, 6770, 6830, 6900, 6960, 7120, 7180, 7260, 7340, 7500, 7560, 7750, 7800, 7860, 7920, 7980, 8040, 8100, 8200, 8300, 8680, 8780, 8940, 9000, 9060, 9160, 9220, 9340, 9460, 9520, 9600, 9660, 9760, 9800]),
    (6556, [20, 75, 200, 260, 315, 370, 430, 490, 580, 650, 710, 770, 830, 890, 950, 1150, 1250, 1320, 1430, 1510, 1600, 1660, 1720, 1780, 1840, 1900, 1960, 2020, 2080, 2140, 2200, 2270, 2330, 2390, 2480, 2560, 2620, 2680, 2740, 2800, 2950, 3020, 3080, 3130, 3270, 3330, 3390, 3450, 3510, 3620, 3800, 3860, 3920, 4000, 4060, 4120, 4180, 4240, 4300, 4360, 4420, 4480, 4560, 4620, 4780, 4870, 4910, 4960, 5000, 5060, 5120, 5180, 5240, 5300, 5450, 5510, 5630, 5680, 5730, 5890, 5950, 6000, 6100, 6170, 6250, 6340, 6400, 6450, 6560, 6640, 6700, 6780, 6830, 6900, 7000, 7040, 7100, 7200, 7280, 7340, 7400, 7900, 7960, 8020, 8080, 8140, 8200, 8330, 8390, 8530, 8590, 8650, 8700, 8760, 8800, 8980, 9040, 9100, 9200, 9290, 9360, 9480, 9540, 9600, 9660, 9720, 9780, 9840, 9900]),
    (6557, [20, 80, 115, 190, 250, 390, 440, 550, 600, 680, 740, 790, 840, 960, 1340, 1420, 1520, 1600, 1700, 1760, 1830, 1980, 2060, 2120, 2180, 2300, 2420, 2480, 2680, 2800, 2980, 3050, 3110, 3170, 3270, 3330, 3400, 3500, 3550, 3600, 3660, 3720, 3850, 3900, 4060, 4140, 4410, 4470, 4530, 4590, 4820, 4900, 4960, 5280, 5340, 5400, 5480, 5660, 5720, 5860, 5980, 6300, 6360, 6420, 6480, 6570, 6650, 6700, 6770, 6900, 6960, 7020, 7120, 7170, 7240, 7450, 7520, 7640, 7740, 7820, 7900, 7960, 8000, 8060, 8150, 8240, 8350, 8400, 8460, 8520, 8580, 8640, 8760, 8830, 8900, 9150, 9220, 9450, 9520, 9590, 9650, 9780, 9840, 9900, 9950]),
    (6558, [0, 55, 110, 220, 400, 455, 510, 565, 620, 675, 730, 780, 840, 890, 960, 1030, 1250, 1305, 1360, 1415, 1470, 1525, 1580, 1635, 1690, 1745, 1800, 1855, 1910, 1970, 2030, 2085, 2140, 2195, 2250, 2305, 2360, 2420, 2480, 2540, 2600, 2660, 2720, 2780, 2840, 2900, 2960, 3020, 3075, 3130, 3190, 3260, 3320, 3380, 3450, 3520, 3580, 3640, 3700, 3760, 3860, 3930, 4000, 4100, 4160, 4210, 4330, 4390, 4450, 4510, 4570, 4630, 4690, 4750, 4810, 4900, 5000, 5100, 5180, 5280, 5400, 5480, 5660, 5720, 5780, 5840, 5900, 5960, 6010, 6100, 6220, 6280, 6350, 6500, 6600, 6660, 6760, 6820, 6880, 6940, 7000, 7060, 7120, 7180, 7240, 7300, 7360, 7420, 7480, 7660, 7800, 7860, 7920, 7980, 8040, 8250, 8380, 8470, 8550, 8610, 8680, 8780, 8840, 8900, 8960, 9190, 9250, 9310, 9400, 9470, 9530, 9600, 9660, 9720, 9850, 9910]),
    (6559, [81, 161, 216, 302, 342, 397, 452, 524, 564, 645, 746, 887, 942, 1028, 1068, 1123, 1178, 1233, 1330, 1431, 1511, 1566, 1621, 1713, 1834, 1975, 2116, 2317, 2372, 2427, 2482, 2537, 2592, 2680, 2760, 2815, 2922, 3043, 3284, 3388, 3443, 3509, 3610, 3665, 3771, 3932, 4073, 4134, 4189, 4244, 4299, 4376, 4416, 4496, 4617, 4672, 4727, 4819, 4940, 5060, 5181, 5463, 5518, 5625, 5867, 6028, 6108, 6310, 6431, 6486, 6541, 6596, 6651, 6713, 7039, 7094, 7200, 7281, 7336, 7382, 7462, 7517, 7623, 7684, 7744, 8087, 8208, 8263, 8369, 8611, 8873, 8953, 9094, 9316, 9417, 9538, 9638, 9719, 9900, 9950]),
]

tail_high = [
    (6560, [141, 200, 322, 431, 600, 705, 806, 927, 1048, 1110, 1170, 1230, 1290, 1350, 1410, 1471, 1519, 1612, 1713, 1793, 1934, 2003, 2136, 2281, 2402, 2583, 2668, 2861, 3031, 3224, 3285, 3345, 3410, 3470, 3587, 3708, 3770, 3830, 3970, 4070, 4171, 4312, 4554, 4614, 4755, 4937, 5063, 5140, 5285, 5365, 5430, 5500, 5566, 5688, 5768, 5849, 5909, 6070, 6130, 6200, 6260, 6332, 6413, 6514, 6655, 6715, 6856, 6949, 7159, 7219, 7300, 7365, 7430, 7521, 7562, 7620, 7723, 7944, 8005, 8065, 8226, 8307, 8428, 8510, 8730, 8831, 9053, 9135, 9214, 9290, 9375, 9456, 9577, 9697, 9818]),
    (6561, [20, 80, 150, 250, 334, 504, 540, 685, 745, 806, 939, 1036, 1253, 1350, 1398, 1519, 1580, 1640, 1713, 1773, 2257, 2320, 2398, 2511, 2680, 2740, 2825, 2910, 3079, 3175, 3272, 3454, 3526, 3671, 3780, 3841, 3974, 4171, 4250, 4372, 4530, 4614, 4663, 4917, 5001, 5055, 5152, 5224, 5357, 5466, 5587, 5647, 5998, 6060, 6143, 6232, 6312, 6433, 6655, 6832, 7098, 7348, 7461, 7582, 7703, 7763, 7956, 8198, 8448, 8670, 8831, 8912, 9145, 9355, 9410, 9516, 9677, 9738, 9879]),
    (6562, [68, 262, 320, 431, 540, 600, 709, 745, 854, 1024, 1156, 1265, 1350, 1459, 1543, 1640, 1761, 1918, 2196, 2317, 2402, 2765, 2922, 3163, 3230, 3345, 3406, 3696, 3768, 4000, 4131, 4300, 4372, 4433, 4554, 4687, 4820, 5001, 5272, 5426, 5486, 5671, 5804, 5950, 5998, 6082, 6191, 6312, 6473, 6540, 6610, 6675, 6929, 7013, 7267, 7570, 7980, 8198, 8392, 8476, 8561, 8633, 8706, 8863, 8972, 9044, 9145, 9359, 9717, 9951]),
    (6563, [32, 153, 189, 443, 600, 670, 740, 806, 1024, 1072, 1217, 1423, 1761, 1930, 1990, 2060, 2148, 2220, 2293, 2378, 2426, 2571, 2644, 2716, 2825, 3115, 3309, 3393, 3450, 3526, 3683, 3792, 4022, 4252, 4372, 4506, 4602, 4675, 4905, 5103, 5200, 5285, 5587, 5635, 5780, 5865, 5962, 6022, 6179, 6385, 6445, 6614, 6699, 6844, 6892, 7038, 7100, 7159, 7255, 7400, 7521, 7580, 7640, 7763, 7885, 7942, 8045, 8247, 8331, 8561, 8770, 8830, 8890, 8950, 9010, 9093, 9234, 9274, 9375, 9456, 9520, 9580, 9636, 9717, 9778, 9858, 9950]),
    (6564, [4, 81, 165, 359, 431, 490, 564, 806, 870, 987, 1132, 1229, 1411, 1471, 1664, 1761, 1834, 1900, 2027, 2124, 2257, 2341, 2438, 2500, 2632, 2752, 2825, 2898, 3139, 3212, 3309, 3381, 3550, 3683, 3780, 3841, 3913, 3970, 4030, 4107, 4215, 4457, 4542, 4675, 4796, 4856, 4957, 5055, 5164, 5430, 5526, 5563, 5696, 5780, 6143, 6433, 6470, 6578, 6723, 6856, 6917, 7038, 7159, 7280, 7348, 7481, 7739, 7800, 7860, 7930, 7990, 8150, 8247, 8416, 8476, 8621, 8730, 8948, 9020, 9262, 9320, 9375, 9456, 9516, 9636, 9717, 9818]),
    (6565, [105, 153, 238, 322, 395, 492, 685, 745, 800, 875, 939, 1060, 1132, 1253, 1338, 1495, 1555, 1610, 1680, 1750, 1858, 2027, 2160, 2329, 2402, 2474, 2511, 2571, 2668, 2789, 2860, 2970, 3115, 3163, 3236, 3406, 3526, 3720, 3829, 3890, 3950, 4010, 4107, 4215, 4433, 4534, 4663, 4723, 4796, 4897, 4982, 5030, 5080, 5130, 5190, 5248, 5345, 5454, 5683, 5865, 5974, 6022, 6288, 6397, 6445, 6929, 7050, 7170, 7243, 7449, 7500, 7555, 7610, 7680, 7763, 8090, 8126, 8186, 8368, 8416, 8549, 8597, 8742, 8790, 8840, 8910, 9093, 9165, 9238, 9335, 9495, 9555, 9616, 9670, 9730, 9790, 9850, 9915]),
    (6566, [68, 141, 347, 383, 443, 612, 770, 915, 1060, 1350, 1374, 1519, 1616, 2237, 2317, 2535, 2801, 3066, 3236, 3333, 3393, 3635, 3683, 3962, 4010, 4107, 4171, 4413, 4470, 4530, 4614, 4796, 4917, 4977, 5031, 5260, 5300, 5369, 5647, 5744, 5841, 5962, 6010, 6167, 6228, 6506, 6747, 7114, 7243, 7533, 7594, 7703, 7775, 8101, 8355, 8380, 8452, 8573, 8718, 8766, 8827, 8924, 9129, 9262, 9311, 9444, 9516, 9734, 9794, 9927]),
    (6567, [226, 334, 383, 661, 782, 963, 1024, 1144, 1277, 1301, 1411, 1471, 1580, 1604, 1834, 2184, 2245, 2462, 2595, 2825, 2910, 3091, 3139, 3224, 3285, 3538, 3623, 3768, 4010, 4070, 4155, 4264, 4336, 4602, 4650, 4735, 4844, 4982, 5055, 5357, 5454, 5575, 5611, 5708, 5768, 6385, 6784, 7074, 7146, 7304, 7376, 7461, 7570, 7751, 8017, 8162, 8319, 8428, 8633, 8694, 8887, 9020, 9069, 9202, 9286, 9798, 9858, 9939]),
    (6568, [347, 383, 431, 612, 697, 818, 903, 1132, 1193, 1362, 1459, 1592, 1676, 1979, 2208, 2317, 2378, 2583, 2728, 2801, 3163, 3550, 3683, 4312, 4397, 4723, 4953, 5025, 5067, 5188, 5466, 5671, 5792, 5829, 5901, 6385, 6566, 6639, 7509, 7545, 7787, 8392, 8549, 8742, 9601, 9661, 9951]),
    (6569, [20, 36, 516, 540, 637, 1229, 1483, 1858, 1918, 2184, 2535, 2813, 2934, 2994, 3187, 3696, 4010, 4131, 4312, 4385, 4626, 4820, 5164, 5224, 5442, 5514, 5587, 6554, 7074, 7424, 7775, 8126, 8174, 8319, 8368, 8464, 8633, 8766, 8803, 8996, 9044, 9202, 9891]),
    (6570, [556, 891, 1036, 2317, 2378, 3127, 3418, 3647, 3744, 3865, 4046, 4457, 4711, 4808, 4941, 5103, 5176, 5272, 5321, 5466, 6143, 6542, 7545, 8113, 8404, 8525, 8875, 8972, 9347, 9395, 9661, 9879, 9927]),
    (6571, [117, 201, 576, 915, 999, 1411, 1483, 1531, 1701, 2003, 2583, 2632, 2692, 2873, 2946, 3031, 3285, 3430, 3756, 3853, 3913, 4058, 4554, 4808, 5103, 5127, 5780, 5998, 6131, 6240, 6590, 6723, 6760, 6790, 6820, 6881, 6977, 7872, 7908, 8065, 8307, 8718, 8803, 8875, 9262, 9431, 9540, 9625, 9697]),
    (6572, [117, 153, 322, 347, 588, 951, 1362, 1894, 2088, 2583, 2765, 2910, 3127, 3986, 4119, 4276, 4494, 4735, 5260, 6022, 6058, 6820, 7582, 7980, 8138, 8476, 8948]),
    (6573, [20, 153, 480, 987, 1036, 1144, 1241, 1447, 2450, 2922, 3659, 3732, 4481, 4530, 5212, 5538, 5575, 6723, 6820, 7437, 7630, 7811, 8512, 9020, 9589]),
    (6574, [129, 733, 775, 806, 1640, 1858, 1942, 2402, 2789, 3224, 3587, 4360, 5260, 5309, 5599, 5696, 5756, 6614, 6747, 7122, 7509, 8029, 8682, 9129, 9238, 9891, 9927]),
    (6575, [226, 1169, 1652, 1749, 1822, 2112, 2172, 2257, 2620, 2728, 3659, 3708, 4626, 5393, 5490, 5551, 6010, 6578, 6820, 7848, 8887, 9165, 9407, 9915, 9939]),
    (6576, [322, 419, 830, 915, 1169, 1265, 1942, 2946, 3031, 3345, 3393, 3949, 5176, 5224, 5381, 6905, 8041, 8766, 8790, 9093, 9153, 9335, 9516, 9867]),
    (6577, [1205, 1471, 1556, 2353, 2668, 3623, 3804, 4759, 5200, 5393, 5611, 5635, 5901, 7570, 8355, 9214, 9577]),
    (6578, [32, 2196, 3514, 4542, 4747, 5013, 5502, 6602, 8488, 8537, 9190]),
    (6579, [1745, 1760, 2478, 2571, 3901, 4191, 4977, 5430, 7110, 7799, 8706, 8924, 9492]),
    (6580, [2414, 2752, 3659, 4000, 4360, 4614, 4929, 5091, 5297, 5345, 5925, 6578, 7582, 9020]),
    (6581, [69, 1205, 1894, 2378, 3127, 3599, 3631, 5152, 6312, 7823, 9226, 9927]),
    (6582, [504, 1930, 4530, 5913, 6034]),
    (6583, [1108, 2112, 4167, 5405, 5925, 8488, 8936]),
    (6584, [2777, 4994, 5248, 5829, 9444]),
    (6585, [1556, 5877]),
    (6586, [1568, 4119, 4892, 7195]),
    (6587, [5224, 5252]),
    (6590, [5538, 6784]),
    (6592, [141]),
    (6596, [6445]),
]

x = []
y = []
for level, samples in tail_low + core + tail_high:
    x += samples
    y += [level] * len(samples)

fig = plt.figure(figsize=(10, 10))
ax = fig.add_axes([0.081, 0.059, 0.904, 0.905])
ax.plot(x, y, 'k.', label='Samples\n$\\mu$ = 6545.27, $\\sigma$ = 13.11')
ax.set_title('Run 652, channel018, Pedestal')
ax.set_xlabel('Sample #')
ax.set_ylabel('ADC Counts')
ax.set_xlim(-491, 10447)
ax.set_ylim(6489, 6601)
ax.legend(loc='upper right')
ax.grid(True)
fig.savefig('out.png', dpi=100)
